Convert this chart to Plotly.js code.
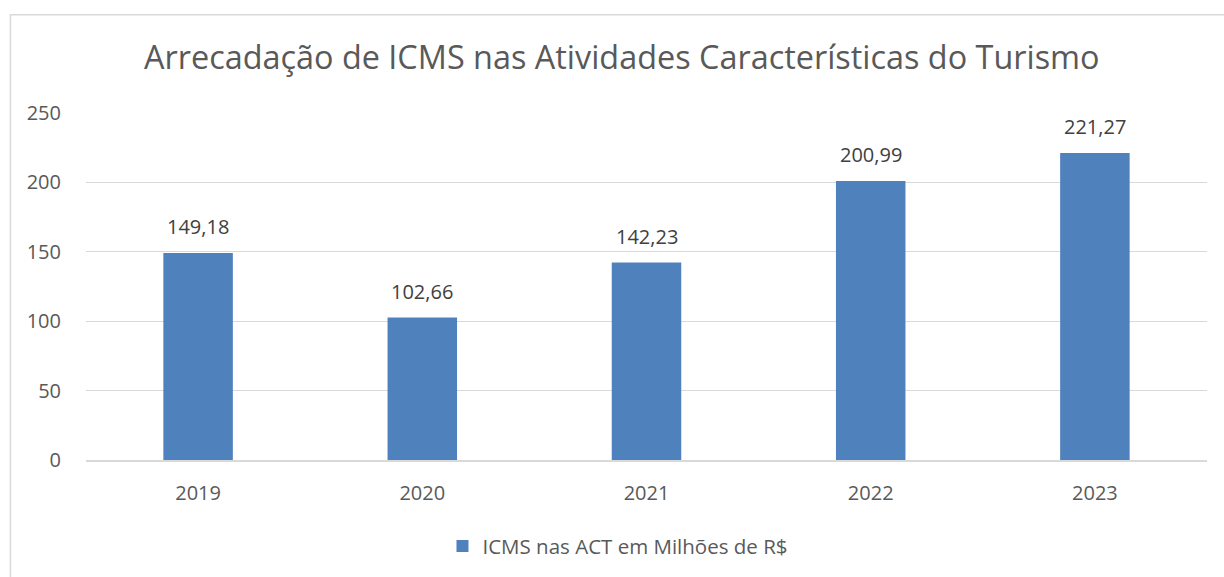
<!DOCTYPE html>
<html><head><meta charset="utf-8">
<script src="https://cdn.plot.ly/plotly-3.0.1.min.js"></script>
<style>html,body{margin:0;padding:0;background:#fff;}#chart{width:1224px;height:577px;}</style>
</head><body><div id="chart"></div>
<script>
const years = ["2019", "2020", "2021", "2022", "2023"];
const icms = [149.18, 102.66, 142.23, 200.99, 221.27];
const labels = ["149,18", "102,66", "142,23", "200,99", "221,27"];
const seriesName = "ICMS nas ACT em Milhões de R$";
const titleText = "Arrecadação de ICMS nas Atividades Características do Turismo";

const font = "Open Sans, sans-serif";
const trace = {
  type: "bar", x: years, y: icms, name: seriesName,
  marker: {color: "#4f81bd"},
  width: 0.31
};
const annotations = years.map((yr, i) => ({
  x: i, y: icms[i], xref: "x", yref: "y", text: labels[i], showarrow: false,
  yanchor: "bottom", yshift: 11, font: {family: font, size: 20, color: "#404040"}
}));
const layout = {
  width: 1224, height: 577,
  margin: {l: 86, r: 17, t: 113, b: 116},
  paper_bgcolor: "#fff", plot_bgcolor: "#fff",
  title: {text: titleText, font: {family: font, size: 32.4, color: "#595959"}, x: 0.508, xanchor: "center", y: 0.9, yanchor: "middle"},
  xaxis: {type: "category", range: [-0.5, years.length - 0.5], autorange: false, showgrid: false, showline: true, linecolor: "#d9d9d9", linewidth: 1.5,
    tickfont: {family: font, size: 20, color: "#595959"}, ticks: "", ticklen: 0, ticklabelstandoff: 14},
  yaxis: {range: [0, 250], dtick: 50, showgrid: true, gridcolor: "#d9d9d9", gridwidth: 1.3, zeroline: false,
    tickfont: {family: font, size: 20, color: "#595959"}, ticklabelstandoff: 24, showline: false},
  showlegend: true,
  legend: {orientation: "h", x: 0.318, xanchor: "left", y: -0.245, yanchor: "middle",
    font: {family: font, size: 20.5, color: "#595959"}},
  annotations: annotations,
  shapes: [{type: "rect", xref: "paper", yref: "paper", x0: -0.0674, x1: 1.03, y0: -0.4, y1: 1.283,
    line: {color: "#d9d9d9", width: 1.5}, fillcolor: "rgba(0,0,0,0)", layer: "below"}]
};
Plotly.newPlot("chart", [trace], layout, {displayModeBar: false});
</script></body></html>
